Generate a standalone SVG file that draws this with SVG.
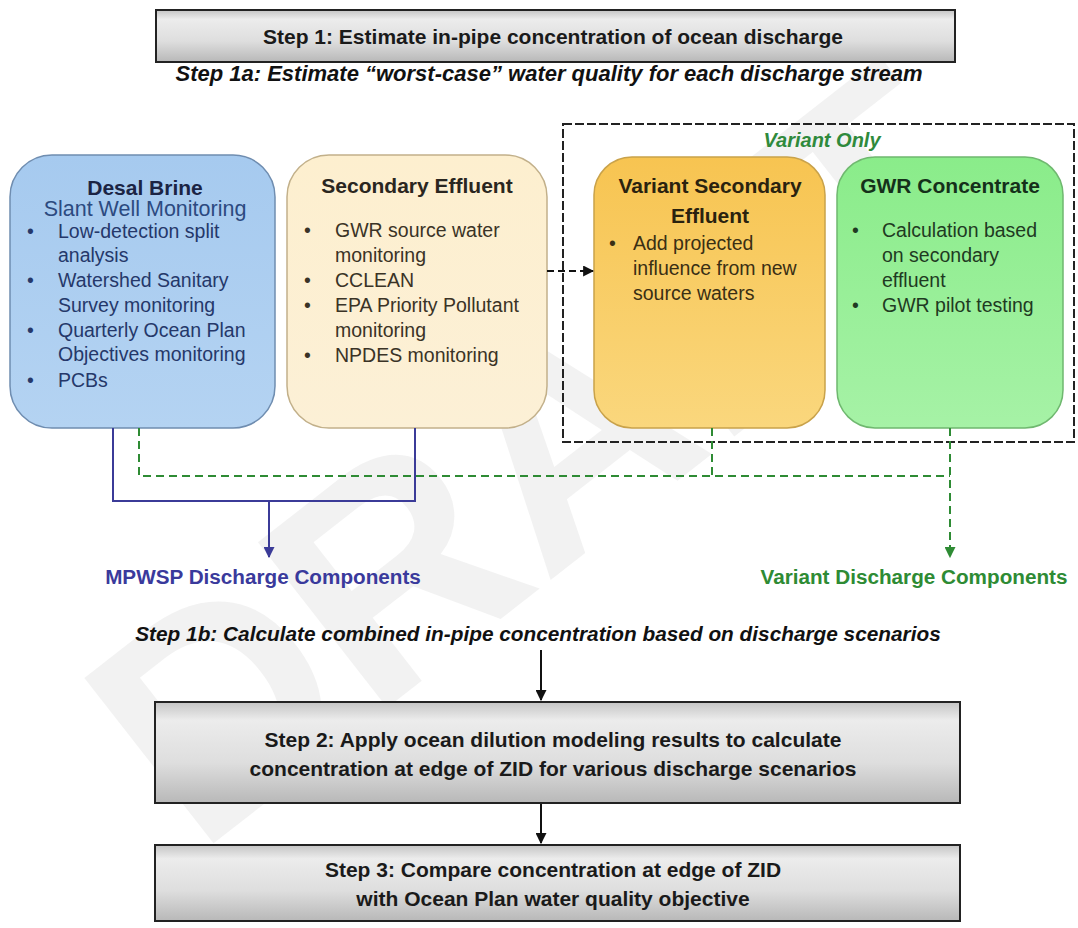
<svg xmlns="http://www.w3.org/2000/svg" width="1078" height="928" viewBox="0 0 1078 928">
<defs>
<linearGradient id="gStep" x1="0" y1="0" x2="0" y2="1">
<stop offset="0" stop-color="#c4c4c4"/>
<stop offset="0.18" stop-color="#ececec"/>
<stop offset="0.6" stop-color="#dedede"/>
<stop offset="1" stop-color="#b8b8b8"/>
</linearGradient>
<linearGradient id="gBlue" x1="0" y1="0" x2="0" y2="1">
<stop offset="0" stop-color="#a6caef"/>
<stop offset="1" stop-color="#b4d3f2"/>
</linearGradient>
<linearGradient id="gCream" x1="0" y1="0" x2="0" y2="1">
<stop offset="0" stop-color="#fdefcf"/>
<stop offset="1" stop-color="#fcf0d6"/>
</linearGradient>
<linearGradient id="gOrange" x1="0" y1="0" x2="0" y2="1">
<stop offset="0" stop-color="#f7c451"/>
<stop offset="1" stop-color="#fad77d"/>
</linearGradient>
<linearGradient id="gGreen" x1="0" y1="0" x2="0" y2="1">
<stop offset="0" stop-color="#8aec8a"/>
<stop offset="1" stop-color="#a6f2a6"/>
</linearGradient>
<marker id="aBlack" viewBox="0 0 10 10" refX="9" refY="5" markerWidth="11" markerHeight="11" markerUnits="userSpaceOnUse" orient="auto"><path d="M0,0 L10,5 L0,10 z" fill="#111"/></marker>
<marker id="aBlue" viewBox="0 0 10 10" refX="9" refY="5" markerWidth="11" markerHeight="11" markerUnits="userSpaceOnUse" orient="auto"><path d="M0,0 L10,5 L0,10 z" fill="#3b3b98"/></marker>
<marker id="aGreen" viewBox="0 0 10 10" refX="9" refY="5" markerWidth="11" markerHeight="11" markerUnits="userSpaceOnUse" orient="auto"><path d="M0,0 L10,5 L0,10 z" fill="#2e8b34"/></marker>
</defs>
<style>
text { font-family: "Liberation Sans", Arial, sans-serif; }
.step { fill: url(#gStep); stroke: #222; stroke-width: 2; }
.stepT { font-size: 21px; font-weight: bold; fill: #1a1a1a; text-anchor: middle; }
.head { font-weight: bold; font-style: italic; fill: #111; text-anchor: middle; }
.title { font-size: 21px; font-weight: bold; text-anchor: middle; }
.bul { font-size: 19.5px; }
.wm { font-size: 305px; font-weight: bold; fill: #9a9a9a; fill-opacity: 0.13; text-anchor: middle; }
</style>

<text class="wm" x="540" y="560" transform="rotate(-38 540 455)">DRAFT</text>

<g id="step1">
<rect class="step" x="156" y="10" width="799" height="52"/>
<text class="stepT" x="553" y="44">Step 1: Estimate in-pipe concentration of ocean discharge</text>
</g>

<text id="step1a" class="head" x="549" y="81" font-size="22">Step 1a: Estimate “worst-case” water quality for each discharge stream</text>

<g id="variant-group">
<rect x="563" y="124" width="511" height="318" fill="none" stroke="#222" stroke-width="2" stroke-dasharray="9 3"/>
<text x="822" y="147" font-size="20" font-weight="bold" font-style="italic" fill="#2f8a3c" text-anchor="middle">Variant Only</text>
</g>

<g id="desal">
<rect x="10" y="155" width="265" height="273" rx="42" fill="url(#gBlue)" stroke="#6f8db0" stroke-width="1.5"/>
<text class="title" x="145" y="195" fill="#1b2444">Desal Brine</text>
<text x="145" y="216" font-size="21.5" fill="#2c4a80" text-anchor="middle">Slant Well Monitoring</text>
<g class="bul" fill="#25386a">
<text x="27" y="238">•</text><text x="58" y="238">Low-detection split</text>
<text x="58" y="262">analysis</text>
<text x="27" y="287">•</text><text x="58" y="287">Watershed Sanitary</text>
<text x="58" y="312">Survey monitoring</text>
<text x="27" y="337">•</text><text x="58" y="337">Quarterly Ocean Plan</text>
<text x="58" y="361">Objectives monitoring</text>
<text x="27" y="387">•</text><text x="58" y="387">PCBs</text>
</g>
</g>

<g id="secondary">
<rect x="287" y="155" width="260" height="273" rx="42" fill="url(#gCream)" stroke="#c2b08a" stroke-width="1.5"/>
<text class="title" x="417" y="193" fill="#2a2620">Secondary Effluent</text>
<g class="bul" fill="#3a3326">
<text x="304" y="237">•</text><text x="335" y="237">GWR source water</text>
<text x="335" y="262">monitoring</text>
<text x="304" y="287">•</text><text x="335" y="287">CCLEAN</text>
<text x="304" y="312">•</text><text x="335" y="312">EPA Priority Pollutant</text>
<text x="335" y="337">monitoring</text>
<text x="304" y="362">•</text><text x="335" y="362">NPDES monitoring</text>
</g>
</g>

<g id="variant-secondary">
<rect x="594" y="157" width="231" height="271" rx="38" fill="url(#gOrange)" stroke="#c9a24a" stroke-width="1.5"/>
<text class="title" x="710" y="193" fill="#2a220f">Variant Secondary</text>
<text class="title" x="710" y="223" fill="#2a220f">Effluent</text>
<g class="bul" fill="#3a2f14">
<text x="609" y="250">•</text><text x="633" y="250">Add projected</text>
<text x="633" y="275">influence from new</text>
<text x="633" y="300">source waters</text>
</g>
</g>

<g id="gwr">
<rect x="837" y="157" width="226" height="271" rx="38" fill="url(#gGreen)" stroke="#6fb86f" stroke-width="1.5"/>
<text class="title" x="950" y="193" fill="#15301a">GWR Concentrate</text>
<g class="bul" fill="#1f3a22">
<text x="852" y="237">•</text><text x="882" y="237">Calculation based</text>
<text x="882" y="262">on secondary</text>
<text x="882" y="287">effluent</text>
<text x="852" y="312">•</text><text x="882" y="312">GWR pilot testing</text>
</g>
</g>

<g id="connectors" fill="none" stroke-width="2">
<line x1="547" y1="271" x2="593" y2="271" stroke="#111" stroke-dasharray="7 4" marker-end="url(#aBlack)"/>
<path d="M113,428 V501 H415 V428" stroke="#3b3b98"/>
<line x1="269" y1="501" x2="269" y2="557" stroke="#3b3b98" marker-end="url(#aBlue)"/>
<path d="M139,428 V476 H950" stroke="#2e8b34" stroke-dasharray="8 5"/>
<line x1="712" y1="428" x2="712" y2="476" stroke="#2e8b34" stroke-dasharray="8 5"/>
<line x1="950" y1="428" x2="950" y2="557" stroke="#2e8b34" stroke-dasharray="8 5" marker-end="url(#aGreen)"/>
<line x1="541" y1="650" x2="541" y2="700" stroke="#111" marker-end="url(#aBlack)"/>
<line x1="541" y1="803" x2="541" y2="843" stroke="#111" marker-end="url(#aBlack)"/>
</g>

<text id="mpwsp-label" x="263" y="584" font-size="20.7" font-weight="bold" fill="#3a3a9c" text-anchor="middle">MPWSP Discharge Components</text>
<text id="variant-label" x="914" y="584" font-size="20.7" font-weight="bold" fill="#2e8b34" text-anchor="middle">Variant Discharge Components</text>

<text id="step1b" class="head" x="538" y="641" font-size="20.8">Step 1b: Calculate combined in-pipe concentration based on discharge scenarios</text>

<g id="step2">
<rect class="step" x="155" y="702" width="805" height="101"/>
<text class="stepT" x="553" y="747">Step 2: Apply ocean dilution modeling results to calculate</text>
<text class="stepT" x="553" y="776">concentration at edge of ZID for various discharge scenarios</text>
</g>

<g id="step3">
<rect class="step" x="155" y="845" width="805" height="76"/>
<text class="stepT" x="553" y="877">Step 3: Compare concentration at edge of ZID</text>
<text class="stepT" x="553" y="906">with Ocean Plan water quality objective</text>
</g>
</svg>
